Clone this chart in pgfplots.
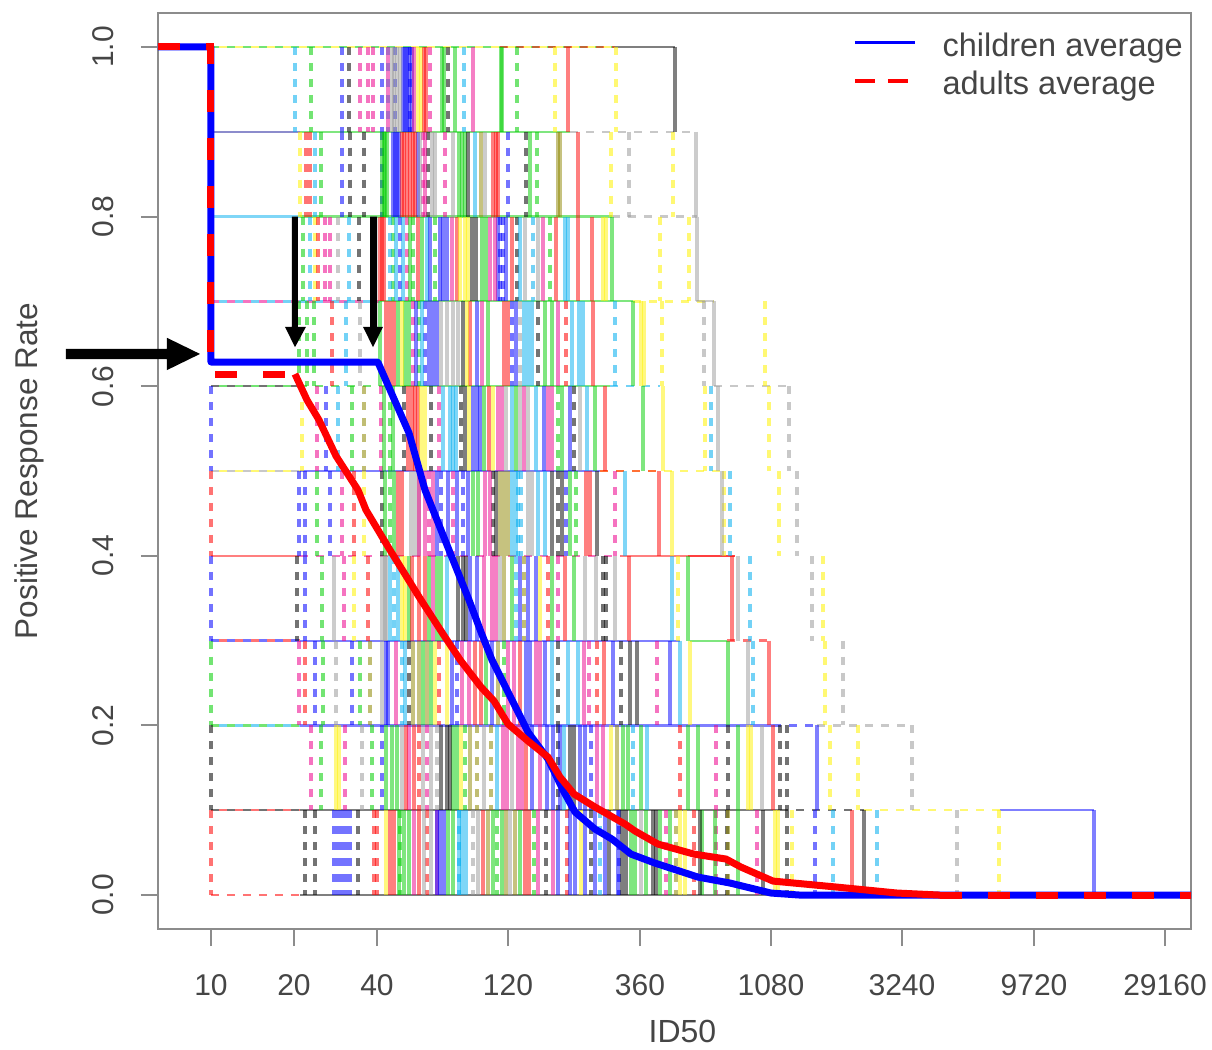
\documentclass[border=0pt]{standalone}
\usepackage{pgfplots}
\pgfplotsset{compat=1.18}
\usepackage{fontspec}
\setmainfont{Liberation Sans}
\definecolor{ink}{HTML}{454545}
\definecolor{fr}{HTML}{8C8C8C}
\definecolor{grn}{HTML}{00CD00}
\definecolor{gry}{HTML}{9A9A9A}
% x is the position on the log ID50 scale: 211 = ID50 10, 83 units per doubling
\newcommand\Sl[4]{\pgfplotsinvokeforeach{#4}{\addplot[forget plot,#3,line width=3.5pt,opacity=.5] coordinates {(##1,#1)(##1,#2)};}}
\newcommand\Dd[4]{\pgfplotsinvokeforeach{#4}{\addplot[forget plot,#3,line width=3.2pt,opacity=.55,dash pattern=on 8pt off 8pt] coordinates {(##1,#1)(##1,#2)};}}
\newcommand\Hs[4]{\addplot[forget plot,#4,line width=2.2pt,opacity=.5] coordinates {(#2,#1)(#3,#1)};}
\newcommand\Hd[4]{\addplot[forget plot,#4,line width=2.4pt,opacity=.55,dash pattern=on 8pt off 8pt] coordinates {(#2,#1)(#3,#1)};}
\begin{document}
\begin{tikzpicture}
\path[use as bounding box] (-158pt,-120pt) rectangle (1054pt,929pt);
\begin{axis}[
  at={(0pt,0pt)},anchor=south west,
  scale only axis,width=1033pt,height=916pt,
  xmin=158,xmax=1191,ymin=-0.04,ymax=1.04,clip=false,
  axis line style={fr,line width=2pt},
  tick align=outside,major tick length=17pt,
  tick style={fr,line width=2pt},
  xtick pos=bottom,ytick pos=left,
  xtick={211,294,377,508,640,771,902,1034,1165},
  xticklabels={10,20,40,120,360,1080,3240,9720,29160},
  ytick={0,0.2,0.4,0.6,0.8,1},
  yticklabels={0.0,0.2,0.4,0.6,0.8,1.0},
  tick label style={font=\fontsize{30}{34}\selectfont,text=ink},
  x tick label style={yshift=-25pt},
  y tick label style={rotate=90,anchor=center,yshift=38pt},
  xlabel={ID50},ylabel={Positive Response Rate},
  xlabel style={font=\fontsize{32}{36}\selectfont,text=ink,at={(axis description cs:0.5077,0)},anchor=center,yshift=-102pt},
  ylabel style={font=\fontsize{31.5}{38}\selectfont,text=ink,at={(axis description cs:0,0.5)},anchor=center,yshift=129pt},
  legend style={draw=none,fill=none,at={(1,1)},anchor=north east,xshift=-6pt,yshift=-18pt,
    font=\fontsize{32.5}{38}\selectfont,text=ink,row sep=9pt,inner sep=0pt,cells={anchor=west}},
  legend cell align=left,
]
\addlegendimage{legend image code/.code={\draw[blue,line width=3.5pt] (0pt,3pt)--(60pt,3pt);}}
\addlegendentry{\hspace{24pt}children average}
\addlegendimage{legend image code/.code={\draw[red,line width=3.5pt,dash pattern=on 20pt off 13pt] (0pt,3pt)--(54pt,3pt);}}
\addlegendentry{\hspace{24pt}adults average}
% horizontal runs of the step curves
\Hd{1.0}{211}{615}{grn}\Hd{1.0}{219}{615}{yellow}\Hd{1.0}{500}{615}{red}\Hs{1.0}{615}{675}{black}
\Hs{0.9}{211}{300}{blue}\Hs{0.9}{211}{300}{gry}\Hs{0.9}{300}{570}{grn}\Hd{0.9}{570}{696}{gry}
\Hs{0.8}{211}{300}{cyan}\Hs{0.8}{300}{612}{grn}\Hd{0.8}{612}{697}{gry}
\Hd{0.7}{211}{380}{magenta}\Hd{0.7}{219}{380}{cyan}\Hs{0.7}{380}{633}{grn}\Hd{0.7}{633}{714}{yellow}\Hs{0.7}{696}{714}{gry}
\Hd{0.6}{211}{300}{black}\Hd{0.6}{219}{380}{grn}\Hs{0.6}{380}{610}{grn}\Hd{0.6}{610}{660}{cyan}\Hd{0.6}{714}{789}{gry}
\Hd{0.5}{211}{300}{gry}\Hd{0.5}{219}{300}{yellow}\Hs{0.5}{300}{600}{blue}\Hd{0.5}{600}{723}{yellow}\Hd{0.5}{600}{660}{red}
\Hs{0.4}{211}{300}{red}\Hd{0.4}{300}{620}{magenta}\Hs{0.4}{620}{735}{red}\Hs{0.4}{688}{735}{red}
\Hd{0.3}{211}{300}{blue}\Hd{0.3}{219}{300}{red}\Hs{0.3}{300}{680}{blue}\Hs{0.3}{690}{727}{grn}\Hd{0.3}{727}{769}{red}
\Hd{0.2}{211}{300}{grn}\Hd{0.2}{219}{300}{cyan}\Hs{0.2}{300}{773}{blue}\Hd{0.2}{773}{817}{blue}\Hd{0.2}{817}{912}{gry}
\Hd{0.1}{211}{300}{black}\Hd{0.1}{219}{300}{red}\Hs{0.1}{300}{780}{black}\Hd{0.1}{780}{864}{black}\Hd{0.1}{864}{1000}{yellow}\Hs{0.1}{1000}{1094}{blue}
\Hd{0.0}{211}{300}{red}\Hs{0.0}{300}{864}{black}
% the left-hand edge of the curves
\Dd{0.6}{0.5}{blue}{211}\Dd{0.5}{0.4}{red}{211}\Dd{0.4}{0.3}{blue}{211}\Dd{0.3}{0.2}{grn}{211}\Dd{0.2}{0.1}{black}{211}\Dd{0.1}{0.0}{red}{211}
% band 1.0 - 0.9
\Dd{1.0}{0.9}{cyan}{295,464,388}\Dd{1.0}{0.9}{grn}{311,517}\Dd{1.0}{0.9}{blue}{342,382,395,410}\Dd{1.0}{0.9}{black}{349,448}
\Dd{1.0}{0.9}{magenta}{360,368,373,430}\Dd{1.0}{0.9}{yellow}{555,616}
\Sl{1.0}{0.9}{blue}{403,407,412,405,409}\Sl{1.0}{0.9}{gry}{397,400,392,394}\Sl{1.0}{0.9}{yellow}{418,421}\Sl{1.0}{0.9}{grn}{442,455,501,502,444}
\Sl{1.0}{0.9}{magenta}{473,388,414}\Sl{1.0}{0.9}{red}{568,426,424}\Sl{1.0}{0.9}{black}{675}
% band 0.9 - 0.8
\Dd{0.9}{0.8}{yellow}{300,611,673}\Dd{0.9}{0.8}{red}{306,310}\Dd{0.9}{0.8}{cyan}{315}\Dd{0.9}{0.8}{grn}{321,537}
\Dd{0.9}{0.8}{blue}{342,382,508}\Dd{0.9}{0.8}{black}{350,364,526,428}\Dd{0.9}{0.8}{magenta}{423,445}\Dd{0.9}{0.8}{gry}{629}
\Sl{0.9}{0.8}{grn}{382,385,462,465,530,384,387,459}\Sl{0.9}{0.8}{blue}{393,397,418,395,399}\Sl{0.9}{0.8}{red}{402,407,413,493,496,578,404,410,415,498}
\Sl{0.9}{0.8}{gry}{435,453,696,420,432,485}\Sl{0.9}{0.8}{black}{468}\Sl{0.9}{0.8}{olive}{481,558,560}\Sl{0.9}{0.8}{magenta}{425}\Sl{0.9}{0.8}{cyan}{475}
% band 0.8 - 0.7
\Dd{0.8}{0.7}{grn}{303,393,413,435,550}\Dd{0.8}{0.7}{cyan}{310,349,390,533}\Dd{0.8}{0.7}{yellow}{315,660,689}\Dd{0.8}{0.7}{red}{318}
\Dd{0.8}{0.7}{magenta}{325,330,407}\Dd{0.8}{0.7}{gry}{338}\Dd{0.8}{0.7}{black}{359,517}\Dd{0.8}{0.7}{blue}{400,500,503}
\Sl{0.8}{0.7}{red}{380,382,418,457,512,578,592,384,556}\Sl{0.8}{0.7}{cyan}{427,565,568,396,403,520}\Sl{0.8}{0.7}{blue}{440,447,430,443,498,506}
\Sl{0.8}{0.7}{yellow}{465,603,606,460,468}\Sl{0.8}{0.7}{black}{472,476}\Sl{0.8}{0.7}{grn}{482,612,410,422,486}\Sl{0.8}{0.7}{magenta}{490,495,543,452}\Sl{0.8}{0.7}{gry}{525,697,538}
% band 0.7 - 0.6
\Dd{0.7}{0.6}{grn}{299,307,314,419}\Dd{0.7}{0.6}{red}{332,566}\Dd{0.7}{0.6}{cyan}{346,615}\Dd{0.7}{0.6}{gry}{360,520,704}
\Dd{0.7}{0.6}{magenta}{413}\Dd{0.7}{0.6}{blue}{425,512}\Dd{0.7}{0.6}{black}{538}\Dd{0.7}{0.6}{yellow}{662,765}
\Sl{0.7}{0.6}{grn}{380,405,552,633,398,409,488,545}\Sl{0.7}{0.6}{red}{390,470,504,593,386,394,508}\Sl{0.7}{0.6}{yellow}{402,641,644,467}\Sl{0.7}{0.6}{blue}{433,477,416,429,437,516}
\Sl{0.7}{0.6}{gry}{441,453,714,447,458}\Sl{0.7}{0.6}{black}{463}\Sl{0.7}{0.6}{cyan}{528,579,583,422,524,532,572}\Sl{0.7}{0.6}{magenta}{482,558}
% band 0.6 - 0.5
\Dd{0.6}{0.5}{yellow}{302,705,769}\Dd{0.6}{0.5}{magenta}{317,439}\Dd{0.6}{0.5}{blue}{326}\Dd{0.6}{0.5}{cyan}{338,711}
\Dd{0.6}{0.5}{grn}{352,390,558}\Dd{0.6}{0.5}{olive}{364}\Dd{0.6}{0.5}{magenta}{381}\Dd{0.6}{0.5}{black}{404,431,461,574}\Dd{0.6}{0.5}{gry}{789}
\Sl{0.6}{0.5}{red}{412,418,489,605,408,415}\Sl{0.6}{0.5}{yellow}{421,469,663,425,493}\Sl{0.6}{0.5}{cyan}{453,456,536,587,443,450,512}\Sl{0.6}{0.5}{blue}{477,480,544,473,570}
\Sl{0.6}{0.5}{gry}{506,718,520,528,580}\Sl{0.6}{0.5}{grn}{516,595,643,384,393,484,562}\Sl{0.6}{0.5}{magenta}{524,552,498,502,548}\Sl{0.6}{0.5}{black}{465}
% band 0.5 - 0.4
\Dd{0.5}{0.4}{blue}{299,305,330,441,463}\Dd{0.5}{0.4}{grn}{317,390,576}\Dd{0.5}{0.4}{magenta}{342,429,453,615}\Dd{0.5}{0.4}{red}{354}
\Dd{0.5}{0.4}{yellow}{364,724,779}\Dd{0.5}{0.4}{black}{382,493,558}\Dd{0.5}{0.4}{cyan}{518,521,730}\Dd{0.5}{0.4}{blue}{566}\Dd{0.5}{0.4}{gry}{797}
\Sl{0.5}{0.4}{red}{398,586,659,402,590}\Sl{0.5}{0.4}{gry}{411,419,528,722,415,532}\Sl{0.5}{0.4}{magenta}{419,485,425,433,490}\Sl{0.5}{0.4}{grn}{473,385,394,478,570}
\Sl{0.5}{0.4}{olive}{500,508,504}\Sl{0.5}{0.4}{cyan}{538,625,512,516,545}\Sl{0.5}{0.4}{black}{597,496,552,562}\Sl{0.5}{0.4}{yellow}{672}\Sl{0.5}{0.4}{blue}{437,448,457,468}
% band 0.4 - 0.3
\Dd{0.4}{0.3}{black}{297}\Dd{0.4}{0.3}{blue}{305}\Dd{0.4}{0.3}{grn}{322}\Dd{0.4}{0.3}{magenta}{344,558}\Dd{0.4}{0.3}{yellow}{354,678,823}
\Dd{0.4}{0.3}{red}{368,548}\Dd{0.4}{0.3}{cyan}{394,516,750}\Dd{0.4}{0.3}{olive}{524}\Dd{0.4}{0.3}{black}{603,606}\Dd{0.4}{0.3}{gry}{812}
\Sl{0.4}{0.3}{gry}{334,382,385,615,738,386,500,585,596}\Sl{0.4}{0.3}{yellow}{402,405,540}\Sl{0.4}{0.3}{grn}{409,441,574,688,429,437,512,552}\Sl{0.4}{0.3}{red}{419,629,732,412,425,565}
\Sl{0.4}{0.3}{magenta}{433,492,484,496}\Sl{0.4}{0.3}{black}{463,466,458}\Sl{0.4}{0.3}{blue}{477,536,470,520,528}\Sl{0.4}{0.3}{olive}{504}\Sl{0.4}{0.3}{cyan}{672,390,398,447}
% band 0.3 - 0.2
\Dd{0.3}{0.2}{magenta}{299,589,657}\Dd{0.3}{0.2}{red}{305,439,597}\Dd{0.3}{0.2}{blue}{315,352,457}\Dd{0.3}{0.2}{grn}{323,360,504}\Dd{0.3}{0.2}{gry}{336}
\Dd{0.3}{0.2}{olive}{370}\Dd{0.3}{0.2}{cyan}{402,753}\Dd{0.3}{0.2}{black}{409,558,621}\Dd{0.3}{0.2}{yellow}{825}\Dd{0.3}{0.2}{gry}{843}
\Sl{0.3}{0.2}{gry}{382,748}\Sl{0.3}{0.2}{blue}{388,613,670,386,452,526,530,545}\Sl{0.3}{0.2}{olive}{419,427,413,498}\Sl{0.3}{0.2}{yellow}{447,690,435}\Sl{0.3}{0.2}{magenta}{469,536,540,396,462,508,514,584}
\Sl{0.3}{0.2}{red}{481,520,769,475,604}\Sl{0.3}{0.2}{blue}{492}\Sl{0.3}{0.2}{cyan}{568,578,680,405,552}\Sl{0.3}{0.2}{grn}{728,423,431,486}\Sl{0.3}{0.2}{black}{637,630}
% band 0.2 - 0.1
\Dd{0.2}{0.1}{magenta}{311,345,716,427}\Dd{0.2}{0.1}{grn}{321,372,465}\Dd{0.2}{0.1}{gry}{362,912}\Dd{0.2}{0.1}{blue}{382,591}\Dd{0.2}{0.1}{red}{419,680}
\Dd{0.2}{0.1}{gry}{437}\Dd{0.2}{0.1}{black}{780,787,558}\Dd{0.2}{0.1}{olive}{477,491}\Dd{0.2}{0.1}{yellow}{830,858}\Dd{0.2}{0.1}{cyan}{633}\Dd{0.2}{0.1}{black}{728}
\Sl{0.2}{0.1}{yellow}{336,339,748,751,611,461}\Sl{0.2}{0.1}{grn}{392,457,688,698,738,623,386,397,453,628,641}\Sl{0.2}{0.1}{gry}{402,512,762,423,431,484}\Sl{0.2}{0.1}{black}{447,450,570,441,574}
\Sl{0.2}{0.1}{magenta}{409,540,603,503,507,518,522,597}\Sl{0.2}{0.1}{red}{526,773,406,414}\Sl{0.2}{0.1}{blue}{817,560,580,532,547,553,585}\Sl{0.2}{0.1}{cyan}{497,647,564}\Sl{0.2}{0.1}{olive}{470,617}
% band 0.1 - 0.0
\Dd{0.1}{0.0}{black}{305,315,358,546,591,787,727}\Dd{0.1}{0.0}{blue}{334,338,342,346,350,815,619}\Dd{0.1}{0.0}{red}{374,377,427,567,694}
\Dd{0.1}{0.0}{grn}{400,497,534}\Dd{0.1}{0.0}{cyan}{459,600,833,877}\Dd{0.1}{0.0}{gry}{473,957}\Dd{0.1}{0.0}{magenta}{666,716,757}\Dd{0.1}{0.0}{yellow}{999,792}\Dd{0.1}{0.0}{olive}{676,728}
\Sl{0.1}{0.0}{yellow}{386,775,778,581,680,685}\Sl{0.1}{0.0}{red}{394,419,483,852,390,525,529}\Sl{0.1}{0.0}{grn}{409,448,520,631,715,738,702,399,404,453,493,502,635,646,660,670}\Sl{0.1}{0.0}{magenta}{437,553,414,538}
\Sl{0.1}{0.0}{blue}{437,575,618,1094,440,444,558,570,585,595,605}\Sl{0.1}{0.0}{cyan}{459,462,466}\Sl{0.1}{0.0}{black}{609,653,656,700,864,763,622,626}\Sl{0.1}{0.0}{gry}{510,641,424,431,478}\Sl{0.1}{0.0}{olive}{488,506,515}
% average curves
\addplot[forget plot,blue,line width=7pt,line join=round] coordinates {(158,1)(211,1)(211,0.6285)(377,0.6285)(378,0.628)(409,0.5448)(425,0.4776)(445,0.4186)(469,0.3479)(481,0.3101)(492,0.2771)(508,0.2394)(528,0.1922)(548,0.1604)(564,0.1215)(575,0.0979)(595,0.0778)(612,0.0660)(631,0.0483)(655,0.0377)(698,0.0212)(730,0.0142)(771,0.0024)(800,0)(1191,0)};
\addplot[forget plot,red,line width=7pt,dash pattern=on 22pt off 26pt] coordinates {(158,1)(211,1)(211,0.6143)(295,0.6143)};
\addplot[forget plot,red,line width=7pt,line join=round] coordinates {(295,0.6143)(307,0.5837)(319,0.5601)(336,0.5177)(358,0.4776)(366,0.4540)(390,0.4068)(421,0.3479)(445,0.3042)(461,0.2759)(481,0.2453)(494,0.2288)(508,0.2017)(528,0.1816)(548,0.1627)(560,0.1392)(574,0.1191)(595,0.1038)(625,0.0837)(635,0.0755)(658,0.0601)(694,0.0483)(726,0.0425)(741,0.0330)(773,0.0165)(837,0.0094)(897,0.0024)(940,0)};
\addplot[forget plot,red,line width=7pt,dash pattern=on 22pt off 26pt] coordinates {(940,0)(1191,0)};
% annotation arrows
\fill[black] (axis cs:66,0.644) -- (axis cs:167,0.644) -- (axis cs:167,0.657) -- (axis cs:200,0.638) -- (axis cs:167,0.619) -- (axis cs:167,0.632) -- (axis cs:66,0.632) -- cycle;
\fill[black] (axis cs:292,0.8) -- (axis cs:298,0.8) -- (axis cs:298,0.670) -- (axis cs:306,0.670) -- (axis cs:295,0.646) -- (axis cs:285,0.670) -- (axis cs:292,0.670) -- cycle;
\fill[black] (axis cs:370,0.8) -- (axis cs:377,0.8) -- (axis cs:377,0.670) -- (axis cs:383,0.670) -- (axis cs:373,0.646) -- (axis cs:363,0.670) -- (axis cs:370,0.670) -- cycle;
\end{axis}
\end{tikzpicture}
\end{document}
